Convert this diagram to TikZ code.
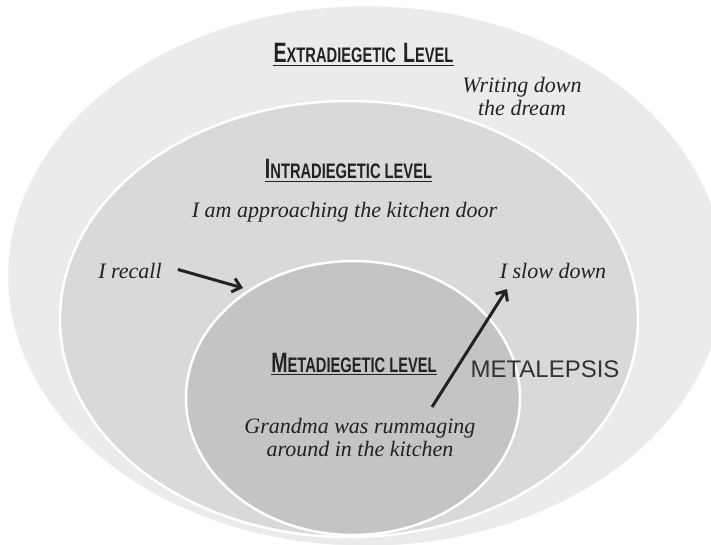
\documentclass[tikz,border=0pt]{standalone}
\usepackage{fontspec}
\setmainfont{Liberation Serif}
\newfontfamily\headfont[FakeStretch=0.70]{Liberation Sans}
\newfontfamily\labelfont{Liberation Sans}
\usetikzlibrary{shapes.geometric, arrows.meta}

\definecolor{outerfill}{HTML}{EBEBEB}
\definecolor{middlefill}{HTML}{D9D9D9}
\definecolor{innerfill}{HTML}{C4C4C4}
\definecolor{inkgray}{HTML}{222222}

\newcommand{\capbig}[1]{{\fontsize{28}{28}\selectfont #1}}
\newcommand{\capsmall}[1]{{\fontsize{21}{21}\selectfont #1}}

\begin{document}
\begin{tikzpicture}[
        x=1pt, y=-1pt,
        level/.style={ellipse, draw=white, line width=2.5pt, inner sep=0pt},
        heading/.style={font=\headfont\bfseries, text=inkgray, inner sep=0pt, anchor=base},
        story/.style={font=\itshape\fontsize{22}{23}\selectfont, text=inkgray, align=center, inner sep=0pt},
        underline/.style={line width=1.8pt, inkgray},
        arrow/.style={line width=3pt, inkgray, -{Straight Barb[length=8pt, width=14pt]}} % open barbed tips
    ]

    % Canvas
    \useasboundingbox (0,0) rectangle (711,545);
    \fill[white] (0,0) rectangle (711,545);
    \clip (0,0) rectangle (711,545);

    % Levels
    \node[level, fill=outerfill, minimum width=718pt, minimum height=542pt] (outer) at (366,276) {};
    \node[level, fill=middlefill, minimum width=578pt, minimum height=436pt] (middle) at (349,319) {};
    \node[level, fill=innerfill, minimum width=334pt, minimum height=274pt] (inner) at (353,398) {};

    % Headings
    \node[heading] (extra) at (363.5,63) {\capbig{E}\capsmall{XTRADIEGETIC}\hspace{7pt}\capbig{L}\capsmall{EVEL}};
    \node[heading] (intra) at (348.5,179) {\capbig{I}\capsmall{NTRADIEGETIC}\hspace{4pt}\capsmall{LEVEL}};
    \node[heading] (meta) at (354,372) {\capbig{M}\capsmall{ETADIEGETIC}\hspace{4pt}\capsmall{LEVEL}};
    \draw[underline] ([yshift=-2pt]extra.south west) -- ([yshift=-2pt]extra.south east);
    \draw[underline] ([yshift=-2pt]intra.south west) -- ([yshift=-2pt]intra.south east);
    \draw[underline] ([yshift=-2pt]meta.south west) -- ([yshift=-2pt]meta.south east);

    % Story lines
    \node[story] (writing) at (522,96) {Writing down\\the dream};
    \node[story, anchor=base] (approach) at (344.5,218) {I am approaching the kitchen door};
    \node[story, anchor=base] (recall) at (130,278) {I recall};
    \node[story, anchor=base] (slow) at (553,278) {I slow down};
    \node[story] (grandma) at (360,437) {Grandma was rummaging\\around in the kitchen};
    \node[font=\labelfont\fontsize{24}{24}\selectfont, text=black!80, inner sep=0pt, anchor=base] (metalepsis) at (545,377) {METALEPSIS};

    % Arrows
    \coordinate (recalltip) at (243,288);
    \coordinate (leapfoot) at (432,407);
    \coordinate (leaptip) at (507,289);
    \draw[arrow] ([xshift=16pt, yshift=1pt]recall.east) -- (recalltip);
    \draw[arrow] (leapfoot) -- (leaptip);

\end{tikzpicture}
\end{document}
